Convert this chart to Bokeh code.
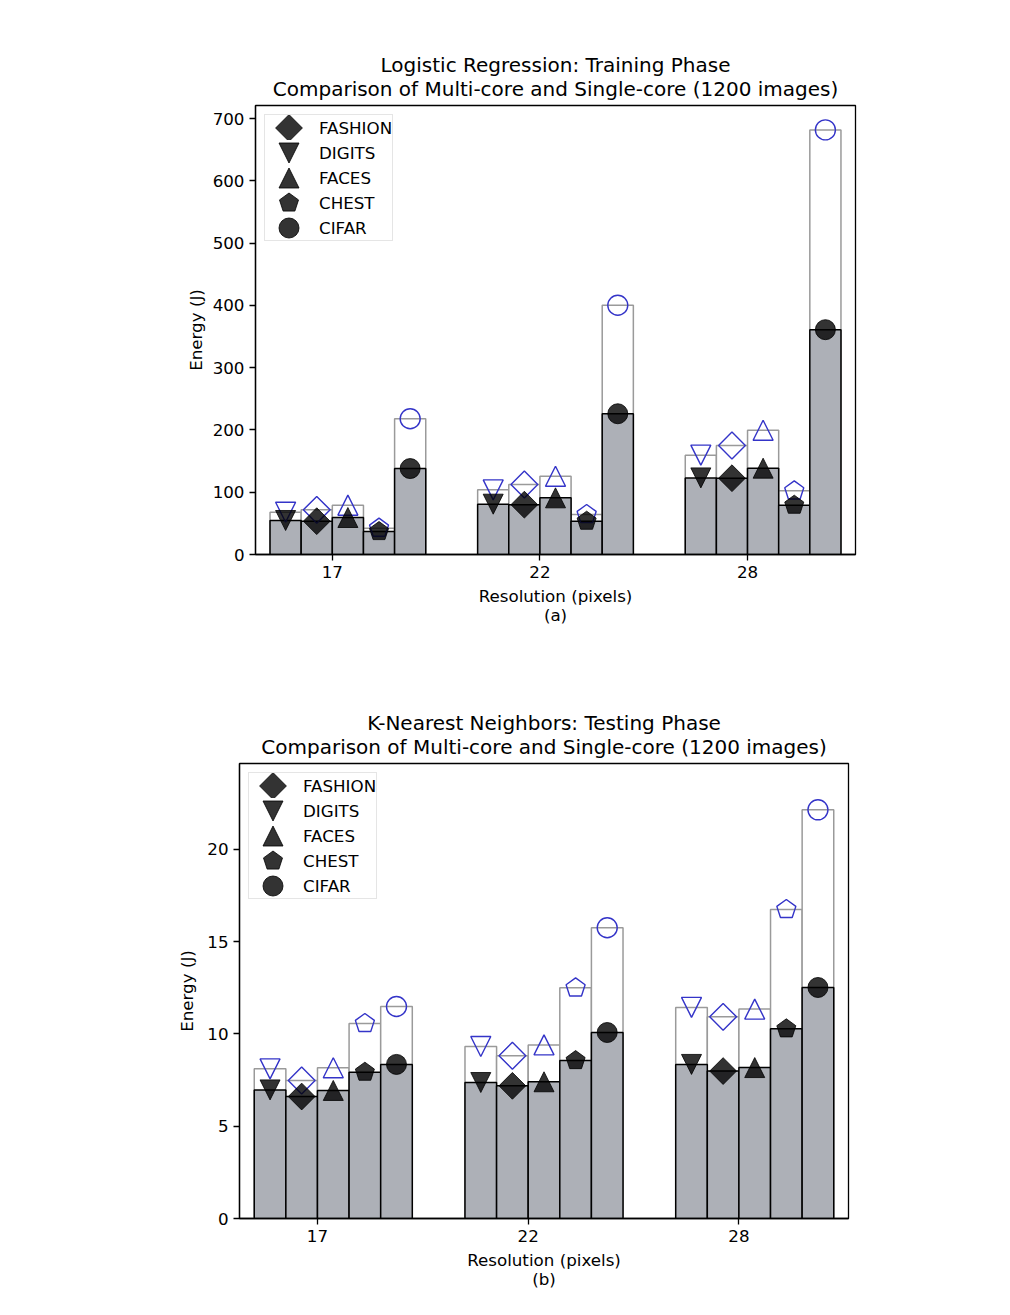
import numpy as np
from bokeh.plotting import figure
from bokeh.models import (Range1d, FixedTicker, Title, Legend, LegendItem, CustomJS)
from bokeh.core.properties import value
from bokeh.embed import file_html
from bokeh.resources import INLINE

# ---------------- data ----------------
resolutions = ["17", "22", "28"]
bar_order = ["DIGITS", "FASHION", "FACES", "CHEST", "CIFAR"]
legend_order = ["FASHION", "DIGITS", "FACES", "CHEST", "CIFAR"]

# Logistic Regression: Training Phase (Energy, J)
lr_multi_digits = [54.6, 80.8, 123.0]
lr_multi_fashion = [53.5, 80.0, 122.5]
lr_multi_faces = [59.4, 91.0, 138.6]
lr_multi_chest = [36.9, 53.5, 79.2]
lr_multi_cifar = [138.0, 226.0, 361.0]
lr_single_digits = [67.9, 103.8, 159.5]
lr_single_fashion = [71.7, 112.4, 175.0]
lr_single_faces = [79.2, 125.7, 199.6]
lr_single_chest = [42.3, 64.2, 102.2]
lr_single_cifar = [218.0, 400.3, 681.8]
lr_yticks = [0, 100, 200, 300, 400, 500, 600, 700]

# K-Nearest Neighbors: Testing Phase (Energy, J)
knn_multi_digits = [6.97, 7.37, 8.35]
knn_multi_fashion = [6.61, 7.19, 7.99]
knn_multi_faces = [6.94, 7.41, 8.18]
knn_multi_chest = [7.93, 8.56, 10.28]
knn_multi_cifar = [8.35, 10.08, 12.52]
knn_single_digits = [8.11, 9.32, 11.44]
knn_single_fashion = [7.48, 8.82, 10.93]
knn_single_faces = [8.17, 9.41, 11.35]
knn_single_chest = [10.57, 12.50, 16.75]
knn_single_cifar = [11.49, 15.76, 22.15]
knn_yticks = [0, 5, 10, 15, 20]

# ---------------- style ----------------
FONT = "DejaVu Sans"
LBL = "16.7px"
BAR_W = 0.15
GREY = "#adb0b7"
BLUE = "#3434c8"
SHAPES = {"DIGITS": "tri_down", "FASHION": "diamond", "FACES": "tri_up",
          "CHEST": "pentagon", "CIFAR": "circle"}
LEG_GW, LEG_GH = 47, 25
LEG_K = 10.0 / (0.2 * min(LEG_GW, LEG_GH))


def shape_js(shape):
    if shape == "circle":
        return "ctx.arc(0, 0, R, 0, 2*Math.PI, false);"
    if shape == "diamond":
        return ("const D = 1.34*R; ctx.moveTo(0, -D); ctx.lineTo(D, 0); "
                "ctx.lineTo(0, D); ctx.lineTo(-D, 0);")
    if shape == "tri_up":
        return "ctx.moveTo(0, -R); ctx.lineTo(R, R); ctx.lineTo(-R, R);"
    if shape == "tri_down":
        return "ctx.moveTo(0, R); ctx.lineTo(R, -R); ctx.lineTo(-R, -R);"
    # pentagon
    return ("for (let j = 0; j < 5; j++) { const a = -Math.PI/2 + j*2*Math.PI/5; "
            "const px = R*Math.cos(a), py = R*Math.sin(a); "
            "if (j == 0) ctx.moveTo(px, py); else ctx.lineTo(px, py); }")


def marker_def(shape, k):
    code = (
        "export default (args, obj, {ctx, i, r, visuals}) => {\n"
        f"  const R = r * {k};\n"
        "  ctx.beginPath();\n"
        f"  {shape_js(shape)}\n"
        "  ctx.closePath();\n"
        "  visuals.fill.apply(ctx, i);\n"
        "  visuals.line.apply(ctx, i);\n"
        "}\n"
    )
    return CustomJS(code=code)


def make_chart(multi, single, title1, title2, ymax, yticks, sub,
               left, right, top, bottom, height, ylabel_standoff):
    p = figure(width=1000, height=height, output_backend="svg", toolbar_location=None,
               x_range=Range1d(-0.37, 2.52), y_range=Range1d(0, ymax),
               min_border_left=left, min_border_right=right,
               min_border_top=top, min_border_bottom=bottom)
    p.background_fill_color = "white"
    p.border_fill_color = "white"
    p.outline_line_color = "black"
    p.outline_line_width = 1.3
    p.grid.visible = False

    # titles (added Title sits closer to the frame than p.title)
    p.title.text = title1
    p.title.align = "center"
    p.title.text_font = FONT
    p.title.text_font_size = "20px"
    p.title.text_font_style = "normal"
    p.title.text_color = "black"
    p.title.standoff = -14
    p.title.text_line_height = 1.0
    p.add_layout(Title(text=title2, align="center", text_font=FONT,
                       text_font_size="20px", text_font_style="normal",
                       text_color="black", standoff=10, text_line_height=1.0), "above")

    xpos = np.arange(len(resolutions))
    for i, name in enumerate(bar_order):
        p.vbar(x=xpos + (i - 1.5) * BAR_W, top=single[name], bottom=0, width=BAR_W,
               fill_color="white", line_color="#9a9a9a", line_width=1.5)
    for i, name in enumerate(bar_order):
        p.vbar(x=xpos + (i - 1.5) * BAR_W, top=multi[name], bottom=0, width=BAR_W,
               fill_color=GREY, line_color="black", line_width=1.5)
    legend_renderers = {}
    for i, name in enumerate(bar_order):
        shp = SHAPES[name]
        mk = "@" + shp
        xs = xpos + (i - 1.5) * BAR_W
        p.scatter(x=xs, y=single[name], marker=value(mk), defs={mk: marker_def(shp, 1.0)},
                  size=20, fill_color=None, line_color=BLUE, line_width=1.4)
        p.scatter(x=xs, y=multi[name], marker=value(mk), defs={mk: marker_def(shp, 1.0)},
                  size=20, fill_color="black", fill_alpha=0.8,
                  line_color="black", line_alpha=0.8, line_width=1.0)
        lr = p.scatter(x=xs, y=multi[name], marker=value(mk),
                       defs={mk: marker_def(shp, LEG_K)},
                       size=20, fill_color="black", fill_alpha=0.8,
                       line_color="black", line_alpha=0.8, line_width=1.0)
        lr.visible = False
        legend_renderers[name] = lr

    legend = Legend(items=[LegendItem(label=n, renderers=[legend_renderers[n]])
                           for n in legend_order],
                    location="top_left", margin=9, padding=0, spacing=0,
                    glyph_width=LEG_GW, glyph_height=LEG_GH, label_height=LEG_GH,
                    label_standoff=7,
                    label_text_font=FONT, label_text_font_size=LBL, label_text_color="black",
                    border_line_color="#cccccc", border_line_width=1,
                    background_fill_alpha=0.8, inactive_fill_alpha=0.0)
    p.add_layout(legend)

    p.xaxis.ticker = FixedTicker(ticks=list(xpos))
    p.xaxis.major_label_overrides = {int(k): v for k, v in zip(xpos, resolutions)}
    p.yaxis.ticker = FixedTicker(ticks=yticks)
    for ax in (p.xaxis[0], p.yaxis[0]):
        ax.axis_line_color = "black"
        ax.axis_line_width = 1.3
        ax.major_tick_line_color = "black"
        ax.major_tick_line_width = 1.3
        ax.major_tick_out = 6
        ax.major_tick_in = 0
        ax.minor_tick_line_color = None
        ax.major_label_text_font = FONT
        ax.major_label_text_font_size = LBL
        ax.major_label_text_color = "black"
        ax.major_label_standoff = 5
        ax.axis_label_text_font = FONT
        ax.axis_label_text_font_size = LBL
        ax.axis_label_text_font_style = "normal"
        ax.axis_label_text_color = "black"
    p.xaxis.axis_label = "Resolution (pixels)"
    p.xaxis.axis_label_standoff = 5
    p.yaxis.axis_label = "Energy (J)"
    p.yaxis.axis_label_standoff = ylabel_standoff
    p.add_layout(Title(text=sub, align="center", text_font=FONT, text_font_size=LBL,
                       text_font_style="normal", text_color="black", standoff=-12,
                       text_line_height=1.0), "below")
    return p


lr_multi = {"DIGITS": lr_multi_digits, "FASHION": lr_multi_fashion, "FACES": lr_multi_faces,
            "CHEST": lr_multi_chest, "CIFAR": lr_multi_cifar}
lr_single = {"DIGITS": lr_single_digits, "FASHION": lr_single_fashion, "FACES": lr_single_faces,
             "CHEST": lr_single_chest, "CIFAR": lr_single_cifar}
knn_multi = {"DIGITS": knn_multi_digits, "FASHION": knn_multi_fashion, "FACES": knn_multi_faces,
             "CHEST": knn_multi_chest, "CIFAR": knn_multi_cifar}
knn_single = {"DIGITS": knn_single_digits, "FASHION": knn_single_fashion,
              "FACES": knn_single_faces, "CHEST": knn_single_chest, "CIFAR": knn_single_cifar}

p1 = make_chart(lr_multi, lr_single, "Logistic Regression: Training Phase",
                "Comparison of Multi-core and Single-core (1200 images)",
                721, lr_yticks, "(a)", 255, 145, 105, 102, 656, 4)
p2 = make_chart(knn_multi, knn_single, "K-Nearest Neighbors: Testing Phase",
                "Comparison of Multi-core and Single-core (1200 images)",
                24.66, knn_yticks, "(b)", 239, 152, 107, 93, 655, 7)

open("out.html", "w").write(file_html([p1, p2], INLINE))
